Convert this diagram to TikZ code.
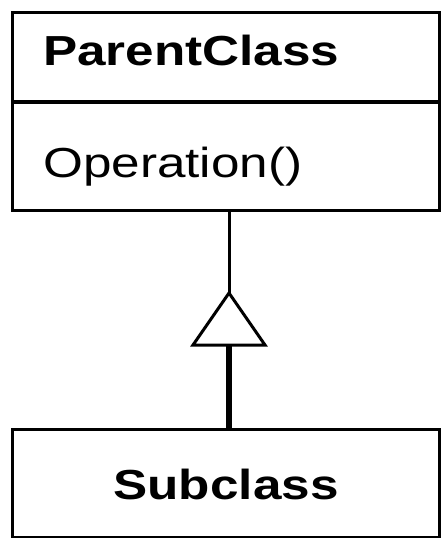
\documentclass[tikz,border=0pt]{standalone}
\usepackage{fontspec}
\setmainfont{Liberation Sans}
\begin{document}
\begin{tikzpicture}[x=1pt,y=-1pt,
  classbox/.style={draw, line width=3pt, rectangle, inner sep=0pt, anchor=north west},
  classtext/.style={inner sep=0pt, font=\fontsize{42}{50}\selectfont},
  divider/.style={line width=4pt},
  thinlink/.style={line width=3pt},
  thicklink/.style={line width=6pt},
  genhead/.style={line width=3pt, line join=miter, fill=white}]
\useasboundingbox (0,0) rectangle (440,538);

% parent class: name compartment and operation compartment
\node[classbox, minimum width=427pt, minimum height=198pt] (parent) at (11,11) {};
\draw[divider] ([yshift=-91pt]parent.north west) -- ([yshift=-91pt]parent.north east);
\node[classtext, anchor=base west] (pname) at (43,65) {\scalebox{1.22}[1]{\bfseries ParentClass}};
\node[classtext, anchor=base west] (pop) at (43,177) {\scalebox{1.22}[1]{Operation()}};

% subclass
\node[classbox, minimum width=427pt, minimum height=108pt] (sub) at (11,428) {};
\node[classtext, anchor=base] (sname) at (226,499) {\scalebox{1.22}[1]{\bfseries Subclass}};

% generalization: hollow triangle pointing at the parent
\coordinate (apex) at (229,293);
\coordinate (basemid) at (229,345);
\draw[thinlink] (apex |- parent.south) -- (apex);
\draw[thicklink] (basemid |- sub.north) -- (basemid);
\draw[genhead] (apex) -- ++(-36,52) -- ++(72,0) -- cycle;
\end{tikzpicture}
\end{document}
